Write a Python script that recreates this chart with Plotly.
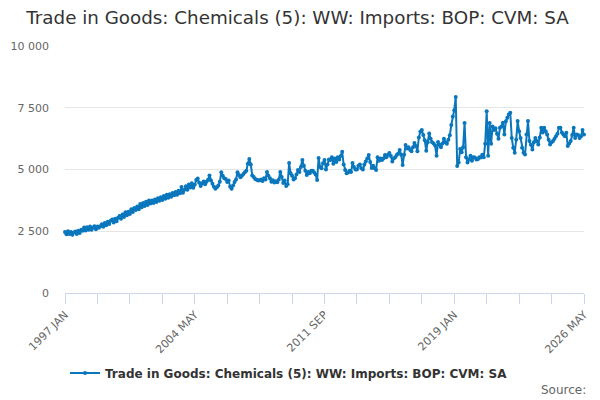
import plotly.graph_objects as go

MONTHS = ["JAN", "FEB", "MAR", "APR", "MAY", "JUN", "JUL", "AUG", "SEP", "OCT", "NOV", "DEC"]
years = list(range(1997, 2027))

values = [
    # 1997
    2470, 2380, 2500, 2390, 2470, 2360, 2450, 2490, 2390, 2520, 2430, 2560,
    # 1998
    2520, 2650, 2530, 2660, 2560, 2690, 2560, 2650, 2700, 2580, 2690, 2640,
    # 1999
    2700, 2780, 2680, 2830, 2740, 2880, 2790, 2930, 2980, 2850, 3010, 2900,
    # 2000
    3050, 3120, 3010, 3180, 3080, 3270, 3150, 3290, 3200, 3390, 3280, 3440,
    # 2001
    3360, 3500, 3390, 3600, 3470, 3640, 3520, 3690, 3560, 3740, 3620, 3750,
    # 2002
    3640, 3790, 3680, 3840, 3730, 3880, 3770, 3930, 3820, 3980, 3860, 4000,
    # 2003
    3900, 4050, 3960, 4090, 3980, 4140, 4040, 4290, 4060, 4180, 4320, 4180,
    # 2004
    4390, 4270, 4440, 4260, 4380, 4570, 4640, 4460, 4330, 4430, 4510, 4400,
    # 2005
    4500, 4580, 4760, 4550, 4420, 4300, 4220, 4280, 4350, 4500, 4890, 4750,
    # 2006
    4650, 4620, 4490, 4550, 4300, 4220, 4350, 4490, 4600, 4890, 4780, 4690,
    # 2007
    4750, 4820, 4890, 4950, 5230, 5430, 5200, 4760, 4700, 4620, 4580, 4550,
    # 2008
    4560, 4600, 4530, 4650, 4600, 4900, 4750, 4650, 4500, 4560, 4470, 4520,
    # 2009
    4480, 4600, 4900, 4700, 4450, 4550, 4330, 4400, 5260, 4850, 4750, 4600,
    # 2010
    4650, 4800, 4980, 4900, 5100, 5380, 5150, 4950, 4780, 4900, 4850, 4950,
    # 2011
    4950, 4880, 4800, 4570, 5470, 5100, 5050, 5250, 5380, 5000, 5200, 5400,
    # 2012
    5380, 5500, 5230, 5450, 5300, 5500, 5400, 5550, 5720, 5200, 4980, 4850,
    # 2013
    4880, 4950, 4900, 5260, 5100, 5000, 5000, 5150, 5200, 5050, 5000, 5200,
    # 2014
    5320, 5450, 5590, 5300, 5060, 5150, 5050, 4980, 5500, 5350, 5450, 5380,
    # 2015
    5450, 5590, 5500, 5600, 5670, 5550, 5320, 5450, 5500, 5590, 5650, 5790,
    # 2016
    5600, 5180, 5600, 5990, 5850, 5900, 5800, 5740, 5900, 6070, 5950, 5740,
    # 2017
    6300, 6530, 6600, 6400, 6180, 5760, 6100, 6460, 6250, 6100, 6050, 5970,
    # 2018
    5560, 6110, 6000, 5900, 6050, 6250, 6100, 6040, 6200, 6390, 6800, 7150,
    # 2019
    7400, 7940, 5140, 5280, 5830, 5700, 5900, 6880, 5500, 5280, 5400, 5560,
    # 2020
    5350, 5500, 5490, 5400, 5420, 5500, 5490, 5600, 5500, 6040, 7360, 5560,
    # 2021
    6880, 6040, 6740, 6600, 6670, 6450, 6250, 6690, 6740, 6890, 6420, 6950,
    # 2022
    7100, 7230, 7300, 6280, 5880, 5680, 6200, 6960, 6550, 6280, 5880, 5680,
    # 2023
    5610, 6420, 6960, 6150, 6000, 5810, 6100, 6280, 6150, 6010, 6300, 6690,
    # 2024
    6500, 6690, 6550, 6420, 6200, 6010, 6100, 6150, 6250, 6350, 6450, 6690,
    # 2025
    6690, 6500, 6420, 6350, 6490, 5950, 6050, 6150, 6400, 6690, 6280, 6420,
    # 2026
    6400, 6280, 6350, 6600, 6420,
]

labels = [f"{y} {m}" for y in years for m in MONTHS][:len(values)]
tick_labels = ["1997 JAN", "2004 MAY", "2011 SEP", "2019 JAN", "2026 MAY"]
tick_idx = [labels.index(t) for t in tick_labels]
x_idx = list(range(len(values)))

series_name = "Trade in Goods: Chemicals (5): WW: Imports: BOP: CVM: SA"
blue = "#0a77bd"
FONT = "DejaVu Sans, sans-serif"

fig = go.Figure()
fig.add_trace(go.Scatter(
    x=x_idx, y=values, mode="lines+markers", name="<b>" + series_name + "</b>",
    line=dict(color=blue, width=2),
    marker=dict(color=blue, size=4),
    text=labels, hovertemplate="%{text}: %{y}<extra></extra>",
    cliponaxis=False,
))

fig.update_layout(
    width=600, height=400,
    paper_bgcolor="white", plot_bgcolor="white",
    margin=dict(l=57, r=24, t=38, b=115, autoexpand=False),
    separators=". ",
    font=dict(family=FONT, color="#666666"),
    title=dict(text=series_name, x=0.4825, xanchor="center", y=0.975, yanchor="middle",
               font=dict(size=18.3, color="#333333", family=FONT)),
    showlegend=True,
    legend=dict(orientation="h", x=0.0, xanchor="left", y=-0.324, yanchor="middle",
                font=dict(size=12, color="#333333", family=FONT),
                itemwidth=30),
    xaxis=dict(
        range=[0, len(values) - 1], showgrid=False, zeroline=False, automargin=False,
        showline=True, linecolor="#ccd6eb", linewidth=1,
        tickmode="array", tickvals=tick_idx, ticktext=tick_labels,
        ticks="outside", ticklen=10, tickcolor="#ccd6eb", tickangle=-45,
        tickfont=dict(size=11, color="#666666", family=FONT),
        minor=dict(ticks="outside", ticklen=10, tickcolor="#ccd6eb", dtick=22, tick0=0, showgrid=False),
    ),
    yaxis=dict(
        range=[0, 10000], dtick=2500, tick0=0, tickformat=",d", automargin=False,
        showgrid=True, gridcolor="#e6e6e6", gridwidth=1, zeroline=False,
        showline=False, ticks="", tickfont=dict(size=11, color="#666666", family=FONT),
        ticklabelstandoff=15,
    ),
)

fig.add_annotation(text="Source:",
                   xref="paper", yref="paper", x=1, y=-0.393, xanchor="right", yanchor="middle",
                   xshift=4, showarrow=False, font=dict(size=12, color="#666666", family=FONT))

fig.write_html("out.html")
